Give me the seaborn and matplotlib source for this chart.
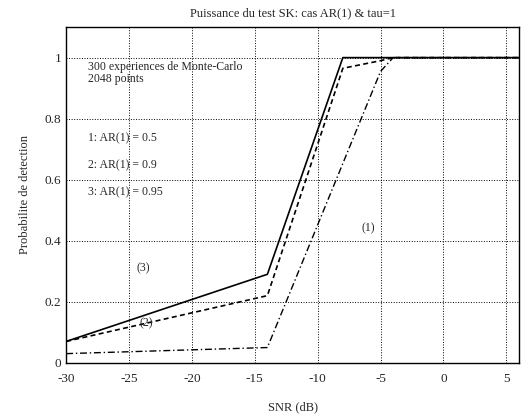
import seaborn as sns
import matplotlib.pyplot as plt

# SNR (dB) and detection probability for each AR(1) case
snr_1 = [-30, -14, -5, -4, 6]
pd_1 = [0.03, 0.05, 0.955, 1.0, 1.0]

snr_2 = [-30, -14, -8, -5, -4, 6]
pd_2 = [0.07, 0.22, 0.965, 0.99, 1.0, 1.0]

snr_3 = [-30, -14, -8, 6]
pd_3 = [0.07, 0.29, 1.0, 1.0]

sns.set_style("white")
plt.rcParams['font.family'] = ['Liberation Serif', 'DejaVu Serif']
plt.rcParams['axes.unicode_minus'] = False

fig = plt.figure(figsize=(5.21, 4.17), dpi=100)
ax = fig.add_axes([0.127, 0.13, 0.869, 0.805])

sns.lineplot(x=snr_1, y=pd_1, ax=ax, color="black", lw=1.0, linestyle=(0, (5, 2, 1, 2)))
sns.lineplot(x=snr_2, y=pd_2, ax=ax, color="black", lw=1.2, linestyle=(0, (3, 2)))
sns.lineplot(x=snr_3, y=pd_3, ax=ax, color="black", lw=1.2, linestyle="-")

ax.set_xlim(-30, 6)
ax.set_ylim(0, 1.1)
ax.set_xticks(range(-30, 6, 5))
ax.set_yticks([0, 0.2, 0.4, 0.6, 0.8, 1])
ax.set_yticklabels(["0", "0.2", "0.4", "0.6", "0.8", "1"])
ax.grid(True, linestyle=":", color="black", lw=0.7)
ax.tick_params(direction="in", labelsize=9.5, length=4, color="black")
ax.tick_params(axis="x", pad=7)
for s in ax.spines.values():
    s.set_color("black")
    s.set_linewidth(1.0)

ax.text(-28.3, 0.95, "300 experiences de Monte-Carlo\n2048 points", fontsize=8.5,
        va="center", linespacing=1.0)
ax.text(-28.3, 0.735, "1: AR(1) = 0.5", fontsize=8.5, va="center")
ax.text(-28.3, 0.647, "2: AR(1) = 0.9", fontsize=8.5, va="center")
ax.text(-28.3, 0.56, "3: AR(1) = 0.95", fontsize=8.5, va="center")
ax.text(-23.9, 0.31, "(3)", fontsize=8.5, ha="center", va="center")
ax.text(-23.6, 0.13, "(2)", fontsize=8.5, ha="center", va="center")
ax.text(-6.0, 0.44, "(1)", fontsize=8.5, ha="center", va="center")

ax.set_title("Puissance du test SK: cas AR(1) & tau=1", fontsize=9, pad=8)
ax.set_xlabel("SNR (dB)", fontsize=9, labelpad=12)
ax.set_ylabel("Probabilite de detection", fontsize=9, labelpad=10)

fig.savefig("out.png", dpi=100)
